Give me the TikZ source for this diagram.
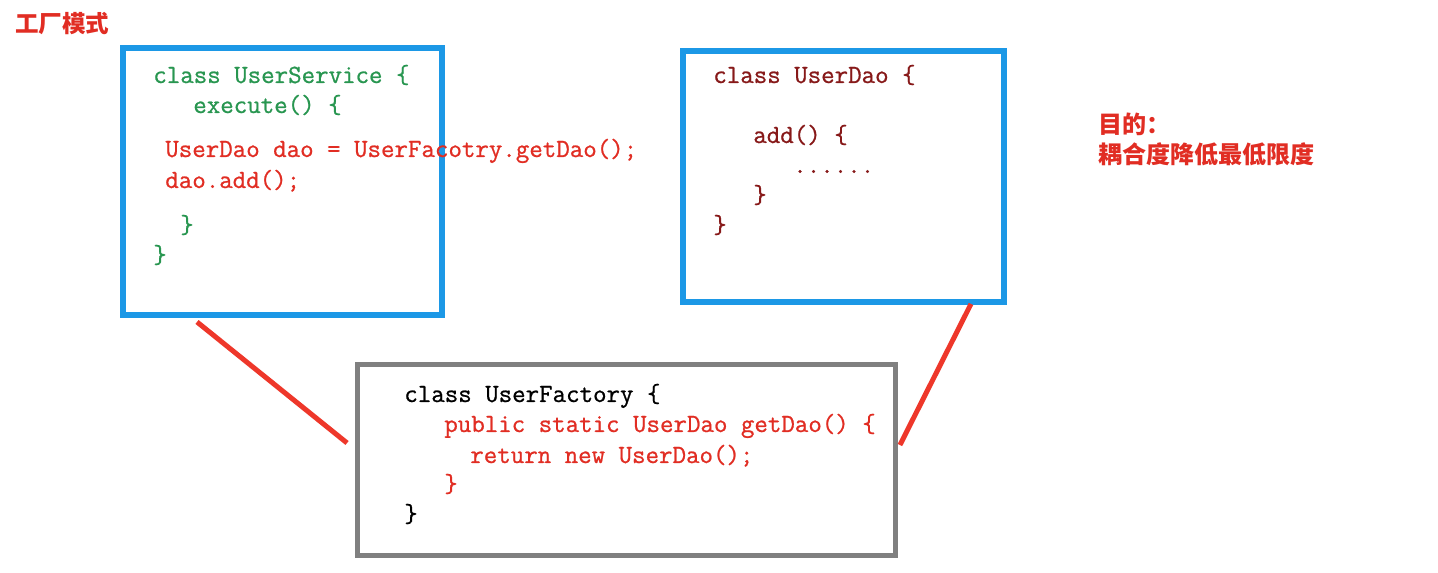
\documentclass[tikz,border=0pt]{standalone}
\usepackage{fontspec}
\newfontfamily\codefont{Latin Modern Mono}[FakeBold=0.8]
\newfontfamily\cjk{Noto Sans CJK SC}
\usetikzlibrary{positioning,calc}

\definecolor{boxblue}{RGB}{28,152,230}
\definecolor{boxgray}{RGB}{128,128,128}
\definecolor{codegreen}{RGB}{40,150,80}
\definecolor{codered}{RGB}{225,45,35}
\definecolor{codemaroon}{RGB}{135,25,25}
\definecolor{linered}{RGB}{238,55,42}

\begin{document}
\begin{tikzpicture}[x=0.02cm,y=-0.02cm,
  cls/.style={draw,inner sep=0pt,outer sep=0pt},
  code/.style={anchor=base west,inner sep=0pt,font=\codefont\fontsize{14.9}{16}\selectfont},
  note/.style={anchor=base west,inner sep=0pt,text=codered,font=\cjk\bfseries\fontsize{13.4}{16}\selectfont},
  link/.style={draw=linered,line width=0.1cm}]
\fill[white] (0,0) rectangle (1438,573);
\useasboundingbox (0,0) rectangle (1438,573);

% title and goal
\node[note] (title) at (15,33) {工厂模式};
\node[note,font=\cjk\bfseries\fontsize{13.7}{16}\selectfont] (goal) at (1098,134) {目的：};
\node[note,font=\cjk\bfseries\fontsize{13.7}{16}\selectfont] (goaltext) at (1098,164) {耦合度降低最低限度};

% the three classes
\node[cls,draw=boxblue,line width=0.12cm,minimum width=6.4cm,minimum height=5.36cm] (svc) at (282.5,181.5) {};
\node[cls,draw=boxblue,line width=0.12cm,minimum width=6.44cm,minimum height=5.04cm] (dao) at (843.5,176.5) {};
\node[cls,draw=boxgray,line width=0.1cm,minimum width=10.76cm,minimum height=3.82cm] (fac) at (626.5,460) {};

% UserService
\node[code,text=codegreen] (s1) at (153,83) {class UserService \{};
\node[code,text=codegreen] (s2) at (193,113) {execute() \{};
\node[code,text=codered] (s3) at (165,157) {UserDao dao = UserFacotry.getDao();};
\node[code,text=codered] (s4) at (165,188) {dao.add();};
\node[code,text=codegreen] (s5) at (180,233) {\}};
\node[code,text=codegreen] (s6) at (153,263) {\}};

% UserDao
\node[code,text=codemaroon] (d1) at (713,83) {class UserDao \{};
\node[code,text=codemaroon] (d2) at (753,143) {add() \{};
\node[code,text=codemaroon] (d3) at (793,173) {......};
\node[code,text=codemaroon] (d4) at (753,203) {\}};
\node[code,text=codemaroon] (d5) at (713,233) {\}};

% UserFactory
\node[code,text=black] (f1) at (404,402) {class UserFactory \{};
\node[code,text=codered] (f2) at (444,432) {public static UserDao getDao() \{};
\node[code,text=codered] (f3) at (470,463) {return new UserDao();};
\node[code,text=codered] (f4) at (444,492) {\}};
\node[code,text=black] (f5) at (404,522) {\}};

% couplings
\draw[link] ([shift={(74.5,6.5)}]svc.south west) -- ([shift={(-10.5,-17)}]fac.west);
\draw[link] ([shift={(-33.5,1.5)}]dao.south east) -- ([shift={(4.5,-15)}]fac.east);
\end{tikzpicture}
\end{document}
